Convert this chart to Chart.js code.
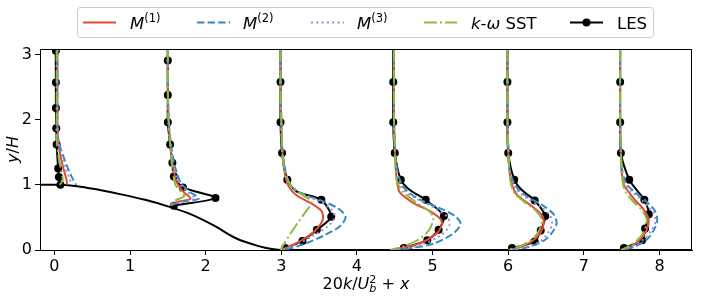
<!DOCTYPE html>
<html>
<head>
<meta charset="utf-8">
<script src="https://cdn.jsdelivr.net/npm/chart.js@4.4.1/dist/chart.umd.min.js"></script>
<style>
  html, body { margin: 0; background: #fff; }
</style>
</head>
<body>
<canvas id="profiles" width="706" height="300"></canvas>
<script>
// values: x = station + 20k/Ub^2, y = y/H
const xTicks = [0, 1, 2, 3, 4, 5, 6, 7, 8];
const yTicks = [0, 1, 2, 3];

const hillX = [-0.19, 0, 0.3, 0.6, 0.9, 1.2, 1.5, 1.8, 2.1, 2.4, 2.7, 2.9, 3.0, 8.43];
const hillY = [1, 1, 0.98, 0.92, 0.85, 0.77, 0.67, 0.55, 0.38, 0.18, 0.06, 0.01, 0, 0];

// one profile per station (x0 = 0, 1.5, 3, 4.5, 6, 7.5)
const m1 = [
  [[0.04, 3.085], [0.04, 2.5], [0.04, 2.0], [0.05, 1.7], [0.08, 1.45], [0.12, 1.25], [0.16, 1.08], [0.17, 1.0]],
  [[1.5, 3.085], [1.5, 2.5], [1.51, 2.0], [1.53, 1.65], [1.56, 1.34], [1.59, 1.15], [1.62, 1.03], [1.7, 0.9], [1.8, 0.79], [1.64, 0.74], [1.53, 0.69]],
  [[2.99, 3.085], [2.99, 2.5], [3.0, 2.0], [3.01, 1.6], [3.03, 1.3], [3.06, 1.1], [3.1, 0.97], [3.2, 0.84], [3.39, 0.72], [3.53, 0.6], [3.55, 0.47], [3.45, 0.3], [3.27, 0.15], [3.1, 0.05], [3.0, 0.0]],
  [[4.49, 3.085], [4.49, 2.5], [4.49, 2.0], [4.5, 1.6], [4.51, 1.3], [4.53, 1.05], [4.57, 0.88], [4.75, 0.72], [4.96, 0.6], [5.1, 0.48], [5.12, 0.38], [5.04, 0.24], [4.8, 0.09], [4.53, 0.02]],
  [[5.99, 3.085], [5.99, 2.0], [6.0, 1.6], [6.01, 1.3], [6.04, 1.05], [6.1, 0.87], [6.22, 0.75], [6.34, 0.65], [6.45, 0.53], [6.47, 0.42], [6.43, 0.27], [6.3, 0.12], [6.12, 0.03], [6.0, 0.0]],
  [[7.48, 3.085], [7.48, 2.0], [7.49, 1.5], [7.5, 1.2], [7.53, 1.0], [7.6, 0.88], [7.68, 0.76], [7.78, 0.64], [7.85, 0.5], [7.85, 0.38], [7.79, 0.22], [7.66, 0.08], [7.5, 0.0]]
];
const m2 = [
  [[0.04, 3.085], [0.04, 2.0], [0.05, 1.7], [0.1, 1.5], [0.17, 1.28], [0.24, 1.1], [0.29, 1.0]],
  [[1.5, 3.085], [1.5, 2.5], [1.51, 2.0], [1.54, 1.65], [1.58, 1.34], [1.63, 1.15], [1.67, 1.03], [1.78, 0.9], [1.91, 0.79], [1.69, 0.74], [1.54, 0.69]],
  [[2.99, 3.085], [2.99, 2.5], [3.0, 2.0], [3.01, 1.6], [3.04, 1.3], [3.08, 1.1], [3.14, 0.97], [3.3, 0.85], [3.55, 0.75], [3.75, 0.64], [3.85, 0.51], [3.78, 0.37], [3.56, 0.22], [3.3, 0.09], [3.1, 0.02], [3.0, 0.0]],
  [[4.49, 3.085], [4.49, 2.5], [4.49, 2.0], [4.5, 1.6], [4.52, 1.3], [4.56, 1.1], [4.65, 0.92], [4.84, 0.77], [5.1, 0.64], [5.3, 0.52], [5.37, 0.4], [5.28, 0.26], [5.02, 0.1], [4.72, 0.03], [4.5, 0.0]],
  [[5.99, 3.085], [5.99, 2.0], [6.0, 1.6], [6.01, 1.3], [6.05, 1.1], [6.12, 0.95], [6.25, 0.82], [6.45, 0.69], [6.6, 0.55], [6.64, 0.42], [6.6, 0.3], [6.48, 0.15], [6.25, 0.04], [6.02, 0.0]],
  [[7.48, 3.085], [7.48, 2.0], [7.49, 1.5], [7.51, 1.2], [7.56, 1.02], [7.66, 0.9], [7.8, 0.77], [7.93, 0.62], [7.97, 0.48], [7.94, 0.34], [7.84, 0.17], [7.65, 0.04], [7.5, 0.0]]
];
const m3 = [
  [[0.04, 3.085], [0.04, 2.0], [0.05, 1.7], [0.09, 1.5], [0.14, 1.28], [0.2, 1.1], [0.23, 1.0]],
  [[1.5, 3.085], [1.5, 2.5], [1.51, 2.0], [1.53, 1.65], [1.57, 1.34], [1.61, 1.15], [1.65, 1.03], [1.75, 0.9], [1.86, 0.79], [1.67, 0.74], [1.53, 0.69]],
  [[2.99, 3.085], [2.99, 2.5], [3.0, 2.0], [3.01, 1.6], [3.03, 1.3], [3.07, 1.1], [3.12, 0.97], [3.3, 0.85], [3.52, 0.74], [3.68, 0.6], [3.7, 0.48], [3.6, 0.35], [3.42, 0.22], [3.22, 0.09], [3.0, 0.0]],
  [[4.49, 3.085], [4.49, 2.5], [4.49, 2.0], [4.5, 1.6], [4.52, 1.3], [4.55, 1.1], [4.62, 0.92], [4.8, 0.78], [5.05, 0.63], [5.2, 0.5], [5.22, 0.37], [5.1, 0.22], [4.85, 0.08], [4.52, 0.0]],
  [[5.99, 3.085], [5.99, 2.0], [6.0, 1.6], [6.01, 1.3], [6.05, 1.08], [6.11, 0.92], [6.24, 0.8], [6.42, 0.67], [6.55, 0.53], [6.58, 0.4], [6.53, 0.27], [6.42, 0.13], [6.2, 0.03], [6.0, 0.0]],
  [[7.48, 3.085], [7.48, 2.0], [7.49, 1.5], [7.51, 1.2], [7.55, 1.01], [7.64, 0.89], [7.77, 0.76], [7.9, 0.6], [7.95, 0.46], [7.9, 0.32], [7.8, 0.17], [7.6, 0.04], [7.5, 0.0]]
];
const sst = [
  [[0.03, 3.085], [0.03, 2.0], [0.03, 1.7], [0.06, 1.4], [0.09, 1.22], [0.11, 1.07], [0.07, 1.0]],
  [[1.5, 3.085], [1.5, 2.5], [1.51, 2.0], [1.53, 1.65], [1.55, 1.34], [1.58, 1.1], [1.6, 1.0], [1.68, 0.88], [1.72, 0.83], [1.6, 0.76], [1.51, 0.69]],
  [[2.99, 3.085], [2.99, 2.5], [3.0, 2.0], [3.01, 1.6], [3.03, 1.3], [3.08, 1.1], [3.15, 0.95], [3.3, 0.83], [3.4, 0.74], [3.33, 0.6], [3.22, 0.42], [3.12, 0.25], [3.04, 0.1], [2.99, 0.0]],
  [[4.49, 3.085], [4.49, 2.5], [4.49, 2.0], [4.5, 1.6], [4.51, 1.3], [4.53, 1.05], [4.62, 0.88], [4.8, 0.72], [4.97, 0.58], [5.01, 0.48], [4.95, 0.3], [4.8, 0.15], [4.6, 0.05], [4.44, 0.0]],
  [[5.99, 3.085], [5.99, 2.0], [6.0, 1.6], [6.01, 1.3], [6.03, 1.05], [6.08, 0.88], [6.2, 0.75], [6.35, 0.62], [6.44, 0.48], [6.43, 0.35], [6.35, 0.2], [6.18, 0.07], [6.0, 0.0]],
  [[7.48, 3.085], [7.48, 2.0], [7.49, 1.5], [7.5, 1.2], [7.52, 1.0], [7.56, 0.88], [7.64, 0.76], [7.76, 0.62], [7.83, 0.48], [7.82, 0.36], [7.75, 0.2], [7.6, 0.06], [7.49, 0.0]]
];
// third value 0 = line point without a marker
const les = [
  [[0.035, 3.085, 0], [0.02, 3.06], [0.02, 2.57], [0.02, 2.18], [0.025, 1.87], [0.03, 1.62], [0.05, 1.25], [0.06, 1.12], [0.08, 1.0]],
  [[1.5, 3.085, 0], [1.5, 2.91], [1.5, 2.38], [1.5, 1.96], [1.53, 1.62], [1.56, 1.34], [1.58, 1.13], [1.7, 0.96], [2.13, 0.8], [1.58, 0.68]],
  [[2.99, 3.085, 0], [2.99, 2.58], [2.99, 1.96], [3.01, 1.49], [3.08, 1.08], [3.2, 0.9, 0], [3.53, 0.77], [3.66, 0.51], [3.47, 0.31], [3.28, 0.14], [3.05, 0.03]],
  [[4.48, 3.085, 0], [4.48, 2.58], [4.48, 1.96], [4.5, 1.49], [4.58, 1.08], [4.7, 0.92, 0], [4.91, 0.77], [5.15, 0.52], [5.08, 0.31], [4.93, 0.15], [4.62, 0.03]],
  [[5.99, 3.085, 0], [5.99, 2.58], [5.99, 1.96], [6.0, 1.49], [6.08, 1.08], [6.18, 0.92, 0], [6.35, 0.76], [6.49, 0.52], [6.43, 0.3], [6.35, 0.13], [6.05, 0.03]],
  [[7.48, 3.085, 0], [7.48, 2.58], [7.48, 1.96], [7.49, 1.49], [7.6, 1.08], [7.7, 0.92, 0], [7.8, 0.77], [7.86, 0.55], [7.81, 0.33], [7.77, 0.15], [7.53, 0.03]]
];

const FONT = '"DejaVu Sans", sans-serif';

// all stations in one dataset, separated by a gap
const joinProfiles = profs => profs.flatMap((p, i) =>
  (i ? [{ x: null, y: null }] : []).concat(p.map(([x, y, m = 1]) => ({ x, y, m }))));

const lineSet = (label, profs, color, dash, order) => ({
  label, data: joinProfiles(profs), order,
  borderColor: color, borderWidth: 2, borderDash: dash,
  pointRadius: 0, tension: 0.3, fill: false
});

// rich text: italic / super / subscript pieces
function drawRich(ctx, x, y, parts, size, dry) {
  const x0 = x;
  for (const p of parts) {
    const s = (p.sup || p.sub) ? size * 0.7 : size;
    ctx.font = (p.it ? 'italic ' : '') + s + 'px ' + FONT;
    const dy = p.sup ? -size * 0.38 : p.sub ? size * 0.2 : 0;
    if (!dry) ctx.fillText(p.t, x, y + dy);
    if (!p.hold) x += ctx.measureText(p.t).width;
  }
  return x - x0;
}

const legendRows = [
  { parts: [{ t: 'M', it: 1 }, { t: '(1)', sup: 1 }], sx: 83, tx: 130 },
  { parts: [{ t: 'M', it: 1 }, { t: '(2)', sup: 1 }], sx: 197, tx: 243 },
  { parts: [{ t: 'M', it: 1 }, { t: '(3)', sup: 1 }], sx: 311, tx: 357 },
  { parts: [{ t: 'k', it: 1 }, { t: '-' }, { t: 'ω', it: 1 }, { t: ' SST' }], sx: 424, tx: 471 },
  { parts: [{ t: 'LES' }], sx: 570, tx: 617 }
];

const decorations = {
  id: 'decorations',
  afterDatasetsDraw(chart) {
    const { ctx, chartArea: a } = chart;
    ctx.save();
    ctx.strokeStyle = '#000';
    ctx.lineWidth = 1;
    ctx.strokeRect(a.left + 0.5, a.top + 0.5, a.right - a.left - 1, a.bottom - a.top);
    ctx.restore();
  },
  afterDraw(chart) {
    const { ctx, chartArea: a } = chart;
    ctx.save();
    ctx.fillStyle = '#000';
    ctx.textBaseline = 'alphabetic';

    // x title
    const xParts = [{ t: '20' }, { t: 'k', it: 1 }, { t: '/' }, { t: 'U', it: 1 },
      { t: 'b', it: 1, sub: 1, hold: 1 }, { t: '2', sup: 1 }, { t: ' + ' }, { t: 'x', it: 1 }];
    const w = drawRich(ctx, 0, 0, xParts, 16, true);
    drawRich(ctx, (a.left + a.right) / 2 - w / 2, 289, xParts, 16);

    // y title
    const yParts = [{ t: 'y', it: 1 }, { t: '/' }, { t: 'H', it: 1 }];
    const wy = drawRich(ctx, 0, 0, yParts, 16, true);
    ctx.save();
    ctx.translate(18, (a.top + a.bottom) / 2);
    ctx.rotate(-Math.PI / 2);
    drawRich(ctx, -wy / 2, 0, yParts, 16);
    ctx.restore();

    // legend
    ctx.beginPath();
    ctx.roundRect(77.5, 7.5, 576, 30, 3);
    ctx.fillStyle = 'rgba(255,255,255,0.8)';
    ctx.fill();
    ctx.strokeStyle = '#cccccc';
    ctx.lineWidth = 1;
    ctx.stroke();

    const sets = chart.data.datasets.filter(d => d.inLegend);
    sets.forEach((ds, i) => {
      const row = legendRows[i];
      const cy = 22.5;
      ctx.strokeStyle = ds.borderColor;
      ctx.lineWidth = 2;
      ctx.setLineDash(ds.borderDash || []);
      ctx.beginPath();
      ctx.moveTo(row.sx, cy);
      ctx.lineTo(row.sx + 33, cy);
      ctx.stroke();
      ctx.setLineDash([]);
      if (ds.markers) {
        ctx.fillStyle = '#000';
        ctx.beginPath();
        ctx.arc(row.sx + 16.5, cy, 4, 0, Math.PI * 2);
        ctx.fill();
      }
      ctx.fillStyle = '#000';
      drawRich(ctx, row.tx, 28.5, row.parts, 16.5);
    });
    ctx.restore();
  }
};

// LES is drawn first, the models on top of it (k-ω SST uppermost)
const m1Set = lineSet('M(1)', m1, '#E24A33', [], 3);
const m2Set = lineSet('M(2)', m2, '#348ABD', [7.4, 3.2], 2);
const m3Set = lineSet('M(3)', m3, '#988ED5', [2, 3.3], 1);
const sstSet = lineSet('k-ω SST', sst, '#8EBA42', [12.8, 3.2, 2, 3.2], 0);
const lesSet = {
  label: 'LES', data: joinProfiles(les), order: 4,
  borderColor: '#000', borderWidth: 2, tension: 0.25,
  pointRadius: c => (c.raw && c.raw.m ? 4 : 0),
  pointBackgroundColor: '#000', pointBorderWidth: 0, pointHoverRadius: 0,
  markers: true
};
[m1Set, m2Set, m3Set, sstSet, lesSet].forEach(d => { d.inLegend = true; });

const hillSet = {
  label: 'hill', data: hillX.map((x, i) => ({ x, y: hillY[i] })), order: 5,
  borderColor: '#000', borderWidth: 2, pointRadius: 0,
  cubicInterpolationMode: 'monotone'
};

new Chart(document.getElementById('profiles'), {
  type: 'line',
  data: { datasets: [hillSet, m1Set, m2Set, m3Set, sstSet, lesSet] },
  options: {
    responsive: false,
    animation: false,
    devicePixelRatio: 1,
    layout: { padding: { top: 49, right: 14, bottom: 0, left: 0 } },
    plugins: { legend: { display: false }, tooltip: { enabled: false } },
    scales: {
      x: {
        type: 'linear', min: -0.19, max: 8.43,
        afterFit: s => { s.height = 50; },
        afterBuildTicks: s => { s.ticks = xTicks.map(v => ({ value: v })); },
        ticks: { color: '#000', font: { family: FONT, size: 16 }, padding: 2, maxRotation: 0 },
        grid: { drawOnChartArea: false, drawTicks: true, tickLength: 5, color: '#000' },
        border: { display: true, color: '#000', width: 1 }
      },
      y: {
        type: 'linear', min: 0, max: 3.085,
        afterFit: s => { s.width = 40; },
        afterBuildTicks: s => { s.ticks = yTicks.map(v => ({ value: v })); },
        ticks: { color: '#000', font: { family: FONT, size: 16 }, padding: 3 },
        grid: { drawOnChartArea: false, drawTicks: true, tickLength: 5, color: '#000' },
        border: { display: true, color: '#000', width: 1 }
      }
    }
  },
  plugins: [decorations]
});
</script>
</body>
</html>
